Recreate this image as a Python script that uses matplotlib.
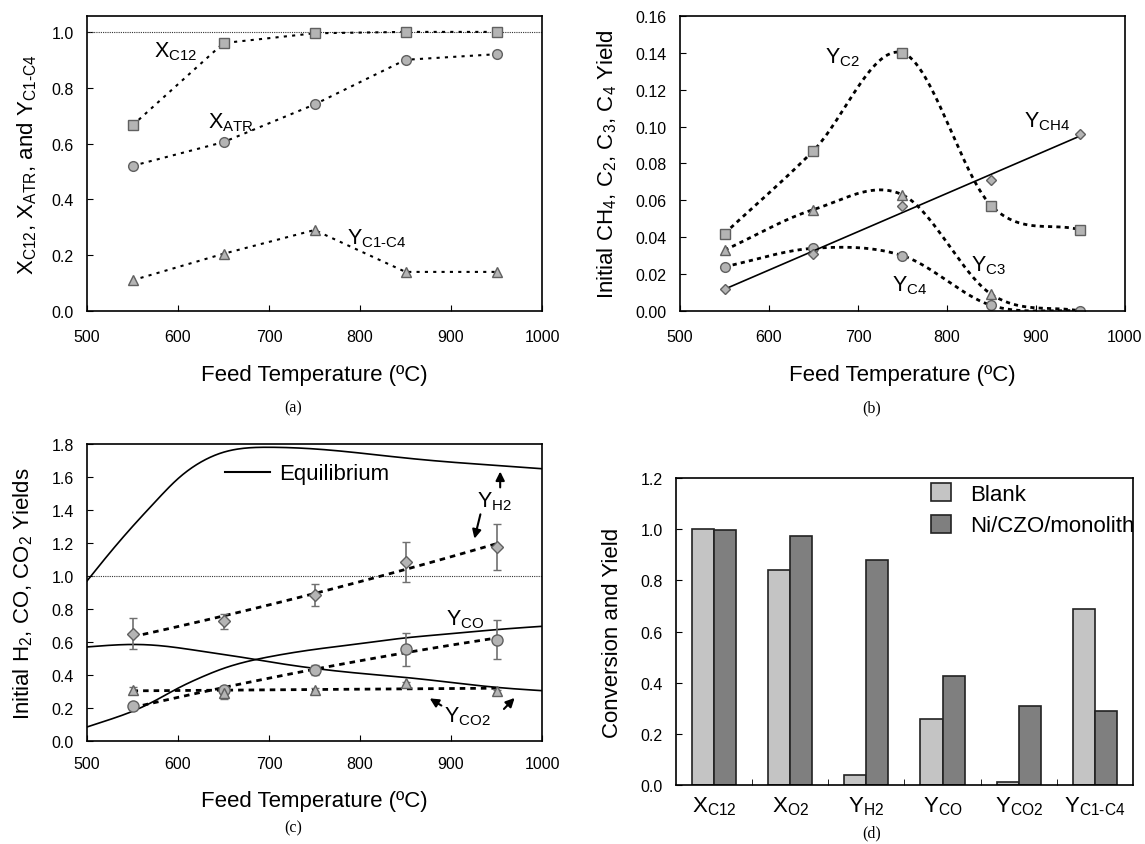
import numpy as np
import matplotlib
matplotlib.use("Agg")
import matplotlib.pyplot as plt

plt.rcParams['font.family'] = ['Liberation Sans', 'DejaVu Sans']
plt.rcParams['mathtext.fontset'] = 'custom'
plt.rcParams['mathtext.rm'] = 'Liberation Sans'
plt.rcParams['mathtext.it'] = 'Liberation Sans:italic'
plt.rcParams['mathtext.bf'] = 'Liberation Sans:bold'

# ================= data ===================
temps = [550, 650, 750, 850, 950]

# (a)
x_c12 = [0.665, 0.96, 0.995, 1.0, 1.0]
x_atr = [0.52, 0.605, 0.74, 0.90, 0.92]
y_c1c4 = [0.11, 0.205, 0.29, 0.14, 0.14]

# (b)
y_c2 = [0.042, 0.087, 0.140, 0.057, 0.044]
y_c3 = [0.033, 0.055, 0.063, 0.009, 0.0]
y_c4 = [0.024, 0.034, 0.030, 0.003, 0.0]
y_ch4 = [0.012, 0.031, 0.057, 0.071, 0.096]

# (c)
y_h2 = [0.65, 0.725, 0.885, 1.085, 1.175]
y_h2_err = [0.095, 0.045, 0.065, 0.12, 0.14]
y_co = [0.21, 0.31, 0.43, 0.555, 0.615]
y_co_err = [0.02, 0.02, 0.03, 0.10, 0.12]
y_co2 = [0.31, 0.29, 0.31, 0.35, 0.30]
y_co2_err = [0.02, 0.035, 0.01, 0.01, 0.01]

eq_temps = [500, 525, 550, 575, 600, 625, 650, 700, 750, 800, 850, 900, 950, 1000]
eq_h2 = [0.97, 1.14, 1.30, 1.45, 1.59, 1.69, 1.75, 1.78, 1.77, 1.745, 1.715, 1.69, 1.67, 1.65]
eq_co = [0.085, 0.13, 0.18, 0.245, 0.32, 0.385, 0.44, 0.51, 0.555, 0.59, 0.625, 0.65, 0.675, 0.695]
eq_co2 = [0.57, 0.58, 0.585, 0.58, 0.565, 0.545, 0.525, 0.48, 0.44, 0.41, 0.385, 0.355, 0.325, 0.305]

# (d)
bar_labels = [r"X$_{\rm C12}$", r"X$_{\rm O2}$", r"Y$_{\rm H2}$", r"Y$_{\rm CO}$",
              r"Y$_{\rm CO2}$", r"Y$_{\text{C1-C4}}$"]
blank = [1.0, 0.84, 0.04, 0.26, 0.01, 0.69]
ni_czo = [0.995, 0.975, 0.88, 0.425, 0.31, 0.29]

# ================= helpers ===================
MFC = '#b4b4b4'
MEC = '#606060'
FS_LAB = 16     # axis labels
FS_ANN = 15.5   # curve names
FS_TICK = 11.5


def spline(x, y, n=300):
    """natural cubic spline through the points, for drawing only"""
    x = np.asarray(x, float)
    y = np.asarray(y, float)
    k = len(x)
    h = np.diff(x)
    A = np.zeros((k, k))
    b = np.zeros(k)
    A[0, 0] = A[-1, -1] = 1
    for i in range(1, k - 1):
        A[i, i - 1] = h[i - 1]
        A[i, i] = 2 * (h[i - 1] + h[i])
        A[i, i + 1] = h[i]
        b[i] = 6 * ((y[i + 1] - y[i]) / h[i] - (y[i] - y[i - 1]) / h[i - 1])
    M = np.linalg.solve(A, b)
    xs = np.linspace(x[0], x[-1], n)
    j = np.clip(np.searchsorted(x, xs) - 1, 0, k - 2)
    x0, x1, hj = x[j], x[j + 1], h[j]
    ys = (M[j] * (x1 - xs) ** 3 / (6 * hj) + M[j + 1] * (xs - x0) ** 3 / (6 * hj)
          + (y[j] / hj - M[j] * hj / 6) * (x1 - xs)
          + (y[j + 1] / hj - M[j + 1] * hj / 6) * (xs - x0))
    return xs, ys


def catmull(x, y, n=60):
    """Catmull-Rom curve through the points (less overshoot than the natural spline)"""
    x = np.asarray(x, float)
    y = np.asarray(y, float)
    k = len(x)
    m = np.zeros(k)
    m[0] = (y[1] - y[0]) / (x[1] - x[0])
    m[-1] = (y[-1] - y[-2]) / (x[-1] - x[-2])
    m[1:-1] = (y[2:] - y[:-2]) / (x[2:] - x[:-2])
    xs_all, ys_all = [], []
    for i in range(k - 1):
        hx = x[i + 1] - x[i]
        t = np.linspace(0, 1, n)
        h00 = 2 * t**3 - 3 * t**2 + 1
        h10 = t**3 - 2 * t**2 + t
        h01 = -2 * t**3 + 3 * t**2
        h11 = t**3 - t**2
        xs_all.append(x[i] + t * hx)
        ys_all.append(h00 * y[i] + h10 * hx * m[i] + h01 * y[i + 1] + h11 * hx * m[i + 1])
    return np.concatenate(xs_all), np.concatenate(ys_all)


def style_axes(ax, xpad=13):
    for s in ax.spines.values():
        s.set_linewidth(1.2)
    ax.tick_params(axis='x', direction='in', length=4, labelsize=FS_TICK, pad=xpad)
    ax.tick_params(axis='y', direction='in', length=4, labelsize=FS_TICK, pad=9.5)


def labels(ax, xlab, ylab, xl_y, yl_x):
    if xlab:
        ax.set_xlabel(xlab, fontsize=FS_LAB, va='center')
        ax.xaxis.set_label_coords(0.5, xl_y)
    ax.set_ylabel(ylab, fontsize=FS_LAB, va='center')
    ax.yaxis.set_label_coords(yl_x, 0.5)


fig = plt.figure(figsize=(11.45, 8.45), dpi=100)

# ================= (a) ===================
ax = fig.add_axes([0.0760, 0.6308, 0.3974, 0.3491])
ax.axhline(1.0, color='#333333', lw=0.8, ls=(0, (1, 1)))
dot = (0, (1.5, 2.5))
ax.plot(temps, x_c12, ls=dot, color='k', lw=1.5, marker='s', ms=7, mfc=MFC, mec=MEC)
ax.plot(temps, x_atr, ls=dot, color='k', lw=1.5, marker='o', ms=7, mfc=MFC, mec=MEC)
ax.plot(temps, y_c1c4, ls=dot, color='k', lw=1.5, marker='^', ms=7, mfc=MFC, mec=MEC)
ax.set_xlim(500, 1000)
ax.set_ylim(0, 1.057)
ax.set_yticks(np.arange(0, 1.01, 0.2))
ax.set_yticklabels([f"{v:.1f}" for v in np.arange(0, 1.01, 0.2)])
style_axes(ax)
labels(ax, "Feed Temperature (ºC)",
       r"X$_{\rm C12}$, X$_{\rm ATR}$, and Y$_{\text{C1-C4}}$", -0.214, -0.132)
ax.text(574, 0.933, r"X$_{\rm C12}$", fontsize=FS_ANN, va='center')
ax.text(633, 0.677, r"X$_{\rm ATR}$", fontsize=FS_ANN, va='center')
ax.text(786, 0.262, r"Y$_{\text{C1-C4}}$", fontsize=FS_ANN, va='center')

# ================= (b) ===================
ax = fig.add_axes([0.5939, 0.6308, 0.3886, 0.3491])
dot_b = (0, (1.5, 1.5))
for vals, mk in [(y_c2, 's'), (y_c3, '^'), (y_c4, 'o')]:
    xs, ys = catmull(temps, vals)
    ax.plot(xs, ys, ls=dot_b, color='k', lw=2)
    ax.plot(temps, vals, ls='none', marker=mk, ms=7, mfc=MFC, mec=MEC)
coef = np.polyfit(temps, y_ch4, 1)
ax.plot([temps[0], temps[-1]], np.polyval(coef, [temps[0], temps[-1]]), color='k', lw=1.2)
ax.plot(temps, y_ch4, ls='none', marker='D', ms=5.5, mfc=MFC, mec=MEC)
ax.set_xlim(500, 1000)
ax.set_ylim(0, 0.16)
ax.set_yticks(np.arange(0, 0.161, 0.02))
ax.set_yticklabels([f"{v:.2f}" for v in np.arange(0, 0.161, 0.02)])
style_axes(ax)
labels(ax, "Feed Temperature (ºC)",
       r"Initial CH$_4$, C$_2$, C$_3$, C$_4$ Yield", -0.214, -0.164)
ax.text(663, 0.138, r"Y$_{\rm C2}$", fontsize=FS_ANN, va='center')
ax.text(886, 0.103, r"Y$_{\rm CH4}$", fontsize=FS_ANN, va='center')
ax.text(827, 0.025, r"Y$_{\rm C3}$", fontsize=FS_ANN, va='center')
ax.text(738, 0.014, r"Y$_{\rm C4}$", fontsize=FS_ANN, va='center')

# ================= (c) ===================
ax = fig.add_axes([0.0760, 0.1219, 0.3974, 0.3515])
ax.axhline(1.0, color='#333333', lw=0.8, ls=(0, (1, 1)))
for vals in [eq_h2, eq_co, eq_co2]:
    xs, ys = spline(eq_temps, vals)
    ax.plot(xs, ys, color='k', lw=1.2)
dash = (0, (2, 1.8))
xf = np.linspace(temps[0], temps[-1], 100)
for vals, err, mk, ms, deg in [(y_h2, y_h2_err, 'D', 6, 2),
                               (y_co, y_co_err, 'o', 8, 2),
                               (y_co2, y_co2_err, '^', 7, 1)]:
    ax.plot(xf, np.polyval(np.polyfit(temps, vals, deg), xf), ls=dash, color='k', lw=2)
    ax.errorbar(temps, vals, yerr=err, ls='none', marker=mk, ms=ms, mfc=MFC, mec=MEC,
                ecolor='#707070', elinewidth=1.2, capsize=3)
ax.plot([], [], color='k', lw=1.5, label='Equilibrium')
ax.legend(loc='center left', bbox_to_anchor=(0.303, 0.899), frameon=False, fontsize=FS_LAB,
          borderpad=0, borderaxespad=0, handlelength=2.05, handletextpad=0.4)
ax.set_xlim(500, 1000)
ax.set_ylim(0, 1.8)
ax.set_yticks(np.arange(0, 1.81, 0.2))
ax.set_yticklabels([f"{v:.1f}" for v in np.arange(0, 1.81, 0.2)])
style_axes(ax, xpad=11)
labels(ax, "Feed Temperature (ºC)",
       r"Initial H$_2$, CO, CO$_2$ Yields", -0.202, -0.141)
arr = dict(arrowstyle='-|>', color='k', lw=1.5, mutation_scale=13)
ax.text(929, 1.455, r"Y$_{\rm H2}$", fontsize=FS_ANN, va='center')
ax.annotate("", xy=(954, 1.65), xytext=(954, 1.52), arrowprops=arr)
ax.annotate("", xy=(925, 1.21), xytext=(933, 1.39), arrowprops=arr)
ax.text(894, 0.739, r"Y$_{\rm CO}$", fontsize=FS_ANN, va='center')
ax.text(892, 0.152, r"Y$_{\rm CO2}$", fontsize=FS_ANN, va='center')
ax.annotate("", xy=(874, 0.267), xytext=(892, 0.206), arrowprops=arr)
ax.annotate("", xy=(972, 0.273), xytext=(956, 0.182), arrowprops=arr)

# ================= (d) ===================
ax = fig.add_axes([0.5904, 0.0698, 0.3991, 0.3633])
pos = np.arange(len(bar_labels))
w = 0.29
ax.bar(pos - w / 2, blank, w, color='#c4c4c4', edgecolor='#222222', lw=1.2, label='Blank')
ax.bar(pos + w / 2, ni_czo, w, color='#7f7f7f', edgecolor='#222222', lw=1.2, label='Ni/CZO/monolith')
ax.set_xlim(-0.5, len(bar_labels) - 0.5)
ax.set_ylim(0, 1.2)
ax.set_yticks(np.arange(0, 1.21, 0.2))
ax.set_yticklabels([f"{v:.1f}" for v in np.arange(0, 1.21, 0.2)])
ax.set_xticks(pos)
ax.set_xticklabels(bar_labels, fontsize=FS_LAB)
ax.set_xticks(pos[:-1] + 0.5, minor=True)
style_axes(ax)
ax.tick_params(axis='x', which='major', length=0, pad=7, labelsize=FS_LAB)
ax.tick_params(axis='x', which='minor', direction='in', length=4)
labels(ax, None, "Conversion and Yield", 0, -0.140)
ax.legend(loc='upper left', bbox_to_anchor=(0.558, 0.985), frameon=False, fontsize=FS_LAB,
          borderpad=0, borderaxespad=0, handlelength=0.9, handleheight=0.9,
          handletextpad=0.85, labelspacing=0.45)

# panel captions
for x, y, t in [(0.256, 0.517, "(a)"), (0.761, 0.517, "(b)"),
                (0.256, 0.020, "(c)"), (0.761, 0.014, "(d)")]:
    fig.text(x, y, t, ha='center', va='center', fontsize=11.5, family='Liberation Serif')

fig.savefig("out.png", dpi=100)
